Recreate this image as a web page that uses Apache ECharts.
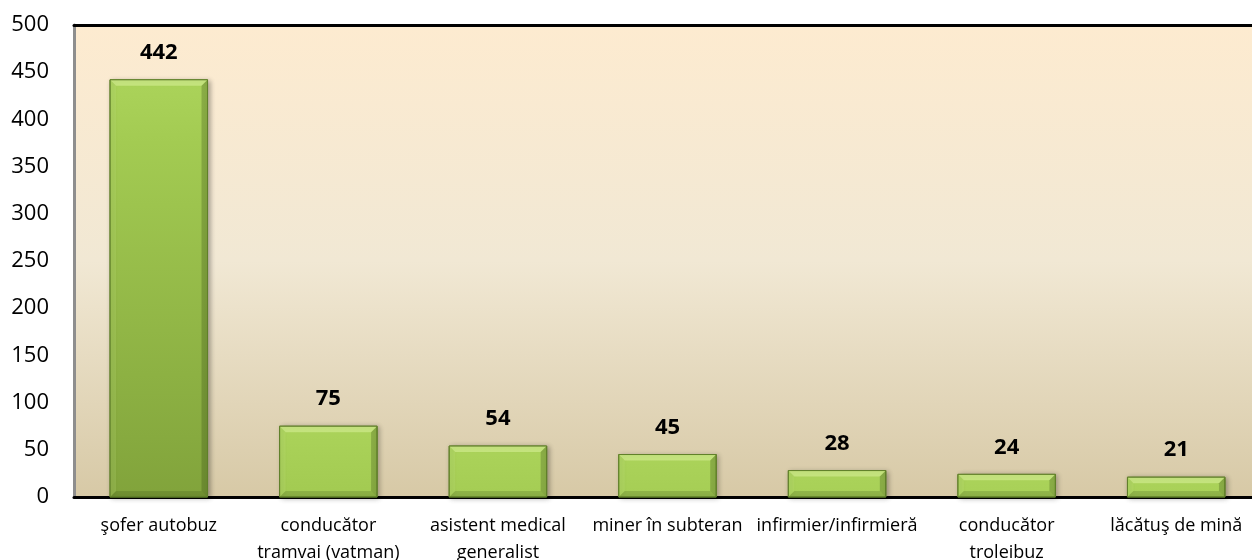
<!DOCTYPE html>
<html>
<head>
<meta charset="utf-8">
<script src="https://cdn.jsdelivr.net/npm/echarts@6/dist/echarts.min.js"></script>
<style>
html,body{margin:0;padding:0;background:#fff;}
#chart{width:1252px;height:560px;}
</style>
</head>
<body>
<div id="chart"></div>
<script>
const categories = ['şofer autobuz', 'conducător\ntramvai (vatman)', 'asistent medical\ngeneralist', 'miner în subteran', 'infirmier/infirmieră', 'conducător\ntroleibuz', 'lăcătuş de mină'];
const values = [442, 75, 54, 45, 28, 24, 21];
const yMin = 0, yMax = 500, yStep = 50;

const FONT = '"Open Sans", "DejaVu Sans", sans-serif';
const chart = echarts.init(document.getElementById('chart'), null, {renderer: 'canvas'});

function renderItem(params, api) {
  const idx = api.value(0), v = api.value(1);
  const top = api.coord([idx, v]);
  const bot = api.coord([idx, 0]);
  const w = api.size([1, 0])[0] * 0.575;
  const x0 = top[0] - w / 2, x1 = top[0] + w / 2, y0 = top[1], y1 = bot[1];
  const b = Math.min(6, (y1 - y0) / 2);
  return {
    type: 'group',
    children: [
      {type: 'rect', shape: {x: x0, y: y0, width: w, height: y1 - y0},
       style: {fill: new echarts.graphic.LinearGradient(0, y0, 0, y0 + 420, [
         {offset: 0, color: '#ABD35A'}, {offset: 0.15, color: '#A3CB52'}, {offset: 1, color: '#81A33B'}], true),
         stroke: '#5F7F27', lineWidth: 1,
         shadowBlur: 5, shadowOffsetX: 2, shadowOffsetY: 1, shadowColor: 'rgba(0,0,0,0.3)'}},
      {type: 'polygon', shape: {points: [[x0, y0], [x1, y0], [x1 - b, y0 + b], [x0 + b, y0 + b]]},
       style: {fill: 'rgba(215,240,150,0.6)'}},
      {type: 'polygon', shape: {points: [[x0, y0], [x0 + b, y0 + b], [x0 + b, y1 - b], [x0, y1]]},
       style: {fill: 'rgba(200,235,130,0.2)'}},
      {type: 'polygon', shape: {points: [[x1, y0], [x1, y1], [x1 - b, y1 - b], [x1 - b, y0 + b]]},
       style: {fill: 'rgba(40,60,10,0.25)'}},
      {type: 'polygon', shape: {points: [[x0, y1], [x0 + b, y1 - b], [x1 - b, y1 - b], [x1, y1]]},
       style: {fill: 'rgba(40,60,10,0.18)'}},
      {type: 'rect', shape: {x: x0, y: y0, width: w, height: y1 - y0},
       style: {fill: 'none', stroke: '#61802A', lineWidth: 1}},
      {type: 'text', x: top[0], y: y0 - 27,
       style: {text: String(v), align: 'center', verticalAlign: 'middle',
               font: 'bold 22px ' + FONT, fill: '#000'}}
    ]
  };
}

chart.setOption({
  animation: false,
  backgroundColor: '#ffffff',
  grid: {
    left: 74, top: 25, width: 1187, height: 472, containLabel: false,
    outerBoundsMode: 'none',
    show: true, borderWidth: 0,
    backgroundColor: new echarts.graphic.LinearGradient(0, 0, 0, 1, [
      {offset: 0, color: '#FDEBD0'},
      {offset: 0.5, color: '#F1E8D4'},
      {offset: 1, color: '#D7C9A6'}
    ])
  },
  xAxis: [{
    type: 'category', data: categories, position: 'bottom',
    axisLine: {show: true, lineStyle: {color: '#000', width: 3}},
    axisTick: {show: false},
    axisLabel: {interval: 0, fontSize: 18, fontFamily: FONT, color: '#000', lineHeight: 27, margin: 15},
    splitLine: {show: false}
  }, {
    type: 'category', data: categories, position: 'top',
    axisLine: {show: true, lineStyle: {color: '#000', width: 3}},
    axisTick: {show: false}, axisLabel: {show: false}, splitLine: {show: false}
  }],
  yAxis: {
    type: 'value', min: yMin, max: yMax, interval: yStep,
    axisLine: {show: true, lineStyle: {color: '#8E8E8E', width: 3}},
    axisTick: {show: false},
    axisLabel: {fontSize: 22, fontFamily: FONT, color: '#000', margin: 25},
    splitLine: {show: false}
  },
  series: [{
    type: 'custom',
    renderItem: renderItem,
    data: values.map((v, i) => [i, v]),
    encode: {x: 0, y: 1},
    clip: false
  }]
});
</script>
</body>
</html>
